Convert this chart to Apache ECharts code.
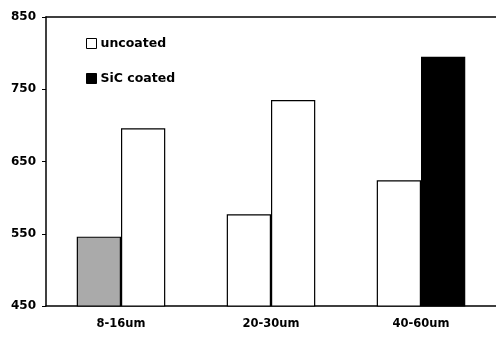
<!DOCTYPE html>
<html>
<head>
<meta charset="utf-8">
<script src="https://cdn.jsdelivr.net/npm/echarts@6/dist/echarts.min.js"></script>
<style>
  html, body { margin: 0; padding: 0; background: #fff; }
  #main { width: 496px; height: 338px; }
</style>
</head>
<body>
<div id="main"></div>
<script>
var categories = ['8-16um', '20-30um', '40-60um'];
// left bar and right bar of each group
var leftValues = [546, 577, 624];
var rightValues = [696, 735, 795];
var leftColors = ['#aaaaaa', '#ffffff', '#ffffff'];
var rightColors = ['#ffffff', '#ffffff', '#000000'];
var yTicks = [450, 550, 650, 750, 850];

var chart = echarts.init(document.getElementById('main'));
var fontFam = '"DejaVu Sans", sans-serif';

function toItems(vals, cols) {
    return vals.map(function (v, i) {
        return { value: v, itemStyle: { color: cols[i] } };
    });
}

var option = {
    animation: false,
    backgroundColor: '#fff',
    textStyle: { fontFamily: fontFam },
    grid: {
        left: 46,
        right: 0,
        top: 17,
        bottom: 32
    },
    legend: {
        orient: 'vertical',
        left: 81,
        top: 32,
        itemWidth: 10,
        itemHeight: 10,
        itemGap: 22,
        icon: 'rect',
        textStyle: { fontSize: 12.5, fontWeight: 'bold', color: '#000', fontFamily: fontFam, padding: [0, 0, 0, -1] },
        data: [
            { name: 'uncoated', itemStyle: { color: '#fff', borderColor: '#000', borderWidth: 1 } },
            { name: 'SiC coated', itemStyle: { color: '#000', borderColor: '#000', borderWidth: 1 } }
        ]
    },
    xAxis: [
        {
            type: 'category',
            data: categories,
            axisLine: { lineStyle: { color: '#000', width: 1.5 } },
            axisTick: { show: false },
            axisLabel: { color: '#000', fontSize: 11.5, fontWeight: 'bold', margin: 12, fontFamily: fontFam }
        },
        {
            // top frame line only
            type: 'category',
            position: 'top',
            data: categories,
            axisLine: { show: true, lineStyle: { color: '#000', width: 1.5 } },
            axisTick: { show: false },
            axisLabel: { show: false }
        }
    ],
    yAxis: {
        type: 'value',
        min: yTicks[0],
        max: yTicks[yTicks.length - 1],
        interval: 100,
        axisLine: { show: true, lineStyle: { color: '#000', width: 1.5 } },
        axisTick: { show: true, length: 4, lineStyle: { color: '#000' } },
        splitLine: { show: false },
        axisLabel: { color: '#000', fontSize: 12, fontWeight: 'bold', margin: 10, fontFamily: fontFam }
    },
    series: [
        {
            name: 'uncoated',
            type: 'bar',
            barGap: '0%',
            barCategoryGap: '41%',
            data: toItems(leftValues, leftColors),
            itemStyle: { borderColor: '#000', borderWidth: 1.2 }
        },
        {
            name: 'SiC coated',
            type: 'bar',
            data: toItems(rightValues, rightColors),
            itemStyle: { borderColor: '#000', borderWidth: 1.2 }
        }
    ]
};
chart.setOption(option);
</script>
</body>
</html>
